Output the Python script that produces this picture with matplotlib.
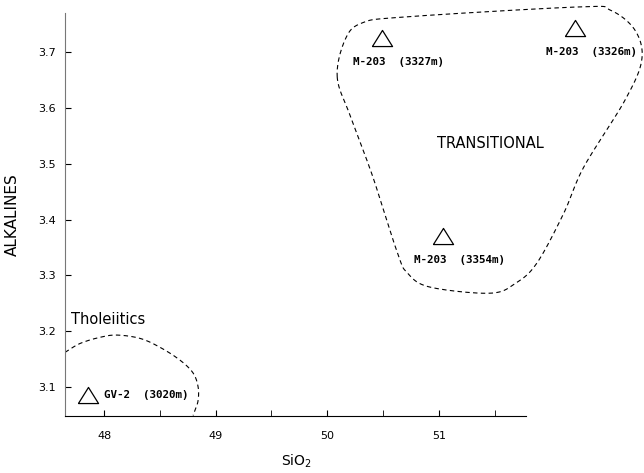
import matplotlib
matplotlib.use('Agg')
import matplotlib.pyplot as plt
import numpy as np

# samples: SiO2 vs alkalines
sample_names = ['GV-2  (3020m)', 'M-203  (3327m)', 'M-203  (3326m)', 'M-203  (3354m)']
sio2 = [47.86, 50.49, 52.22, 51.04]
alkalines = [3.086, 3.725, 3.743, 3.37]

# hand-drawn field outlines (SiO2, alkalines)
trans_x = [47.65 + v for v in [2.44, 2.51, 2.66, 3.05, 4.62, 4.89, 5.11, 5.17, 5.02, 4.65,
                               4.47, 4.23, 4.04, 3.81, 3.27, 3.07, 2.98, 2.76, 2.56]]
trans_y = [3.655, 3.722, 3.752, 3.763, 3.781, 3.775, 3.739, 3.686, 3.614, 3.494,
           3.411, 3.322, 3.286, 3.268, 3.279, 3.304, 3.340, 3.476, 3.584]
thol_x = [47.65 + v for v in [0.0, 0.135, 0.314, 0.466, 0.673, 0.852, 1.031, 1.148,
                              1.193, 1.193, 1.166, 1.148]]
thol_y = [3.162, 3.178, 3.189, 3.193, 3.187, 3.171, 3.148, 3.125, 3.100, 3.076, 3.059, 3.049]

xticks_major = [48, 49, 50, 51]
xticks_minor = [48.5, 49.5, 50.5, 51.5]
yticks = [3.1, 3.2, 3.3, 3.4, 3.5, 3.6, 3.7]


def catmull(xs, ys, closed=False, n=20):
    p = np.column_stack([xs, ys])
    if closed:
        p = np.vstack([p[-1], p, p[0], p[1]])
    else:
        p = np.vstack([p[0], p, p[-1]])
    out = []
    for i in range(1, len(p) - 2):
        p0, p1, p2, p3 = p[i - 1], p[i], p[i + 1], p[i + 2]
        t = np.linspace(0, 1, n, endpoint=False)[:, None]
        out.append(0.5 * ((2 * p1) + (-p0 + p2) * t + (2 * p0 - 5 * p1 + 4 * p2 - p3) * t ** 2
                          + (-p0 + 3 * p1 - 3 * p2 + p3) * t ** 3))
    out = np.vstack(out)
    if closed:
        out = np.vstack([out, out[0]])
    else:
        out = np.vstack([out, p[-2]])
    return out[:, 0], out[:, 1]


fig = plt.figure(figsize=(6.44, 4.73), dpi=100)
ax = fig.add_axes([0.101, 0.1205, 0.899, 0.852])
ax.set_xlim(47.65, 52.84)
ax.set_ylim(3.048, 3.770)

for side in ['top', 'right']:
    ax.spines[side].set_visible(False)
ax.spines['bottom'].set_bounds(47.65, 51.78)
ax.spines['left'].set_color('#777777')

ax.set_xticks(xticks_major)
ax.set_xticks(xticks_minor, minor=True)
ax.set_yticks(yticks)
ax.tick_params(axis='x', which='both', direction='in', length=4, pad=10.5, labelsize=8)
ax.tick_params(axis='y', direction='in', length=4, pad=6.5, labelsize=8)
ax.set_yticklabels(['%.1f' % v for v in yticks])

tx, ty = catmull(trans_x, trans_y, closed=True)
ax.plot(tx, ty, ls=(0, (4, 3)), color='black', lw=0.8, clip_on=False)
hx, hy = catmull(thol_x, thol_y)
ax.plot(hx, hy, ls=(0, (4, 3)), color='black', lw=0.8)

tri = [(-1, -0.8), (1, -0.8), (0, 0.8), (-1, -0.8)]
ax.plot(sio2, alkalines, ls='none', marker=tri, ms=14.5, mfc='white', mec='black', mew=0.9,
        clip_on=False)

mono = dict(family='DejaVu Sans Mono', fontsize=7.8, fontweight='bold')
ax.text(sio2[0] + 0.135, alkalines[0], sample_names[0], ha='left', va='center', **mono)
for i in range(1, 4):
    ax.text(sio2[i] + 0.145, alkalines[i] - 0.043, sample_names[i], ha='center', va='center', **mono)

ax.text(48.04, 3.22, 'Tholeiitics', ha='center', va='center', fontsize=10.5)
ax.text(51.46, 3.537, 'TRANSITIONAL', ha='center', va='center', fontsize=10.5)

ax.set_ylabel('ALKALINES', fontsize=11)
ax.yaxis.set_label_coords(-0.078, 0.50)
ax.set_xlabel('SiO$_2$', fontsize=10)
ax.xaxis.set_label_coords(0.399, -0.092)

fig.savefig('out.png', dpi=100)
